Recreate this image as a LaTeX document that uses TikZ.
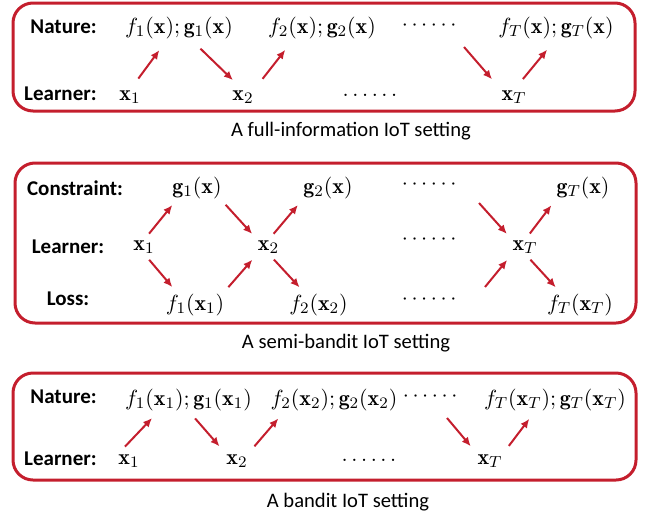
\documentclass[tikz,border=0pt]{standalone}
\usepackage{amsmath}
\usepackage{fontspec}
\usetikzlibrary{arrows.meta}
\newfontfamily\calibfont{Carlito}
\tikzset{>={Latex[length=4.5pt,width=4pt]}}
\definecolor{myred}{RGB}{196,30,45}

\begin{document}
\begin{tikzpicture}[x=0.5pt,y=-0.5pt,
  lbl/.style={anchor=base east,inner sep=0pt,font=\calibfont\bfseries\fontsize{10.5}{12}\selectfont},
  mth/.style={anchor=base,inner sep=0pt,font=\fontsize{10.95}{13}\selectfont},
  captxt/.style={anchor=base,font=\calibfont\fontsize{10.3}{12}\selectfont},
  arr/.style={->,myred,line width=1pt,shorten <=#1,shorten >=#1},
  arr/.default=5pt,
  box/.style={myred,line width=1.5pt,rounded corners=10pt}]

  \useasboundingbox (0,0) rectangle (646,514);

  % boxes
  \draw[box] (13,3) rectangle (635,111);   % full information
  \draw[box] (15,163) rectangle (636,323); % semi-bandit
  \draw[box] (13,373) rectangle (636,480); % bandit

  % full-information setting
  \path
    (97,33) node[lbl] (natA) {Nature:}
    (97,100) node[lbl] (lrnA) {Learner:}
    (179,33) node[mth] (nA1) {$f_1(\mathbf{x});\mathbf{g}_1(\mathbf{x})$}
    (322,33) node[mth] (nA2) {$f_2(\mathbf{x});\mathbf{g}_2(\mathbf{x})$}
    (431,30) node[mth] (dA1) {$\cdots\cdots$}
    (556,33) node[mth] (nAT) {$f_T(\mathbf{x});\mathbf{g}_T(\mathbf{x})$}
    (130,100) node[mth] (xA1) {$\mathbf{x}_1$}
    (243,100) node[mth] (xA2) {$\mathbf{x}_2$}
    (370,96) node[mth] (dA2) {$\ldots\ldots$}
    (514,100) node[mth] (xAT) {$\mathbf{x}_T$}
    (351,136) node[captxt] (capA) {A full-information IoT setting};
  \coordinate (tA) at (464,47);

  \draw[arr=7pt] (xA1.north) -- (nA1.225);
  \draw[arr=7pt] (nA1.-45) -- (xA2.north);
  \draw[arr=7pt] (xA2.north east) -- (nA2.202);
  \draw[arr=7pt,shorten <=0pt] (tA) -- (xAT.north west);
  \draw[arr=7pt] (xAT.north) -- (nAT.south);

  % semi-bandit setting
  \path
    (75,195) node[lbl,anchor=base] (conB) {Constraint:}
    (68,253) node[lbl,anchor=base] (lrnB) {Learner:}
    (68,305) node[lbl,anchor=base] (losB) {Loss:}
    (197,193) node[mth] (gB1) {$\mathbf{g}_1(\mathbf{x})$}
    (328,193) node[mth] (gB2) {$\mathbf{g}_2(\mathbf{x})$}
    (431,189) node[mth] (dB1) {$\cdots\cdots$}
    (583,193) node[mth] (gBT) {$\mathbf{g}_T(\mathbf{x})$}
    (144,250) node[mth] (xB1) {$\mathbf{x}_1$}
    (268.5,250) node[mth] (xB2) {$\mathbf{x}_2$}
    (431,244) node[mth] (dB2) {$\cdots\cdots$}
    (525,250) node[mth] (xBT) {$\mathbf{x}_T$}
    (195,310) node[mth] (fB1) {$f_1(\mathbf{x}_1)$}
    (318.5,310) node[mth] (fB2) {$f_2(\mathbf{x}_2)$}
    (431,304) node[mth] (dB3) {$\cdots\cdots$}
    (580,310) node[mth] (fBT) {$f_T(\mathbf{x}_T)$}
    (346,348) node[captxt] (capB) {A semi-bandit IoT setting};
  \coordinate (tB1) at (479,203);
  \coordinate (tB2) at (485,287);

  \draw[arr=4pt] (xB1.north) -- (gB1.210);
  \draw[arr=4pt] (xB1.south) -- (fB1.147);
  \draw[arr=4pt] (gB1.-26) -- (xB2.north west);
  \draw[arr=4pt] (fB1.22) -- (xB2.south west);
  \draw[arr=4pt] (xB2.north) -- (gB2.south west);
  \draw[arr=4pt] (xB2.south) -- (fB2.140);
  \draw[arr=4pt,shorten <=0pt] (tB1) -- (xBT.north west);
  \draw[arr=4pt,shorten <=0pt] (tB2) -- (xBT.south west);
  \draw[arr=4pt] (xBT.north) -- (gBT.south west);
  \draw[arr=4pt] (xBT.south) -- (fBT.149);

  % bandit setting
  \path
    (97,403) node[lbl] (natC) {Nature:}
    (97,465) node[lbl] (lrnC) {Learner:}
    (188.5,405) node[mth] (nC1) {$f_1(\mathbf{x}_1);\mathbf{g}_1(\mathbf{x}_1)$}
    (334,405) node[mth] (nC2) {$f_2(\mathbf{x}_2);\mathbf{g}_2(\mathbf{x}_2)$}
    (432,401) node[mth] (dC1) {$\cdots\cdots$}
    (555,405) node[mth] (nCT) {$f_T(\mathbf{x}_T);\mathbf{g}_T(\mathbf{x}_T)$}
    (129,464) node[mth] (xC1) {$\mathbf{x}_1$}
    (237,464) node[mth] (xC2) {$\mathbf{x}_2$}
    (369,461) node[mth] (dC2) {$\ldots\ldots$}
    (490,464) node[mth] (xCT) {$\mathbf{x}_T$}
    (348,507) node[captxt] (capC) {A bandit IoT setting};
  \coordinate (tC) at (447,418);

  \draw[arr] (xC1.north west) -- (nC1.201);
  \draw[arr] (nC1.south) -- (xC2.north west);
  \draw[arr] (xC2.north east) -- (nC2.193);
  \draw[arr,shorten <=0pt] (tC) -- (xCT.north west);
  \draw[arr] (xCT.north east) -- (nCT.210);

\end{tikzpicture}
\end{document}
